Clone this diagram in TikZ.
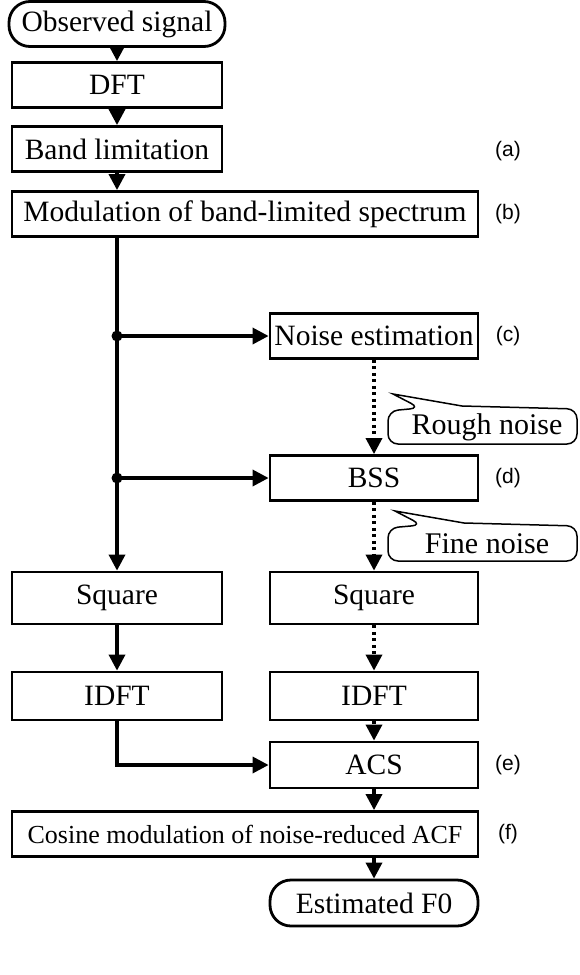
\documentclass[tikz,border=0pt]{standalone}
\usepackage{fontspec}
\setmainfont{Liberation Serif}
\newfontfamily\labfont{Liberation Sans}
\usetikzlibrary{arrows.meta}
\begin{document}
\begin{tikzpicture}[x=1pt,y=-1pt,
  box/.style={draw, line width=2.8pt, minimum height=45pt, inner sep=0pt,
    font=\fontsize{29.5}{32}\selectfont},
  boxL/.style={box, minimum width=210pt},
  boxR/.style={box, minimum width=208pt},
  wide/.style={box, minimum width=466pt},
  term/.style={box, rounded corners=21pt},
  conn/.style={line width=3.4pt, -{Triangle[length=16pt,width=16pt]}},
  dotconn/.style={conn, dash pattern=on 3pt off 3.5pt},
  junction/.style={circle, fill, inner sep=0pt, minimum size=11pt},
  lab/.style={font=\labfont\fontsize{21}{24}\selectfont},
  callout/.style={line width=1.5pt},
  ctext/.style={font=\fontsize{30}{32}\selectfont, inner sep=0pt}]
\useasboundingbox (0,0) rectangle (579,975);

\node[term, minimum width=216pt] (obs) at (117,24) {Observed signal};
\node[boxL] (dft) at (117,85) {DFT};
\node[boxL] (band) at (117,149) {Band limitation};
\node[wide] (mod) at (245,214) {Modulation of band-limited spectrum};
\node[boxR] (noise) at (374,336) {Noise estimation};
\node[boxR] (bss) at (374,478) {BSS};
\node[boxL, minimum height=52pt] (sqL) at (117,598) {Square};
\node[boxR, minimum height=52pt] (sqR) at (374,598) {Square};
\node[boxL, minimum height=48pt] (idL) at (117,696) {IDFT};
\node[boxR, minimum height=48pt] (idR) at (374,696) {IDFT};
\node[boxR, minimum height=46pt] (acs) at (374,765) {ACS};
\node[wide, font=\fontsize{26}{28}\selectfont] (cos) at (245,834) {Cosine modulation of noise-reduced ACF};
\node[term, minimum width=208pt, minimum height=46pt] (est) at (374,903) {Estimated F0};

\node[lab] (la) at (508,151) {(a)};
\node[lab] (lb) at (508,214) {(b)};
\node[lab] (lc) at (508,336) {(c)};
\node[lab] (ld) at (508,478) {(d)};
\node[lab] (le) at (508,765) {(e)};
\node[lab] (lf) at (508,834) {(f)};

% callouts
\node[ctext] (rough) at (487,427) {Rough noise};
\draw[callout] (388,425) [rounded corners=10pt] -- (388,411) -- (420,408) [sharp corners] -- (393,394) -- (462,406) [rounded corners=10pt] -- (577,409) -- (577,444) -- (388,444) -- (388,425);
\node[ctext] (fine) at (487,544) {Fine noise};
\draw[callout] (388,542) [rounded corners=10pt] -- (388,528) -- (422,525) [sharp corners] -- (395,511) -- (464,523) [rounded corners=10pt] -- (577,526) -- (577,561) -- (388,561) -- (388,542);

% connectors
\draw[conn] (obs) -- (dft);
\draw[conn] (dft) -- (band);
\draw[conn] (band) -- (mod.north -| band.south);
\coordinate (d1) at (sqL.north |- noise.west);
\coordinate (d2) at (sqL.north |- bss.west);
\draw[line width=3.4pt] (sqL.north |- mod.south) -- (d1);
\draw[conn] (d1) -- (sqL.north);
\draw[conn] (d1) -- (noise.west);
\draw[conn] (d2) -- (bss.west);
\node[junction] at (d1) {};
\node[junction] at (d2) {};
\draw[dotconn] (noise) -- (bss);
\draw[dotconn] (bss) -- (sqR);
\draw[conn] (sqL) -- (idL);
\draw[dotconn] (sqR) -- (idR);
\draw[dotconn] (idR) -- (acs);
\draw[conn] (idL.south) |- (acs.west);
\draw[conn] (acs) -- (cos.north -| acs.south);
\draw[conn] (cos.south -| est.north) -- (est);
\end{tikzpicture}
\end{document}
